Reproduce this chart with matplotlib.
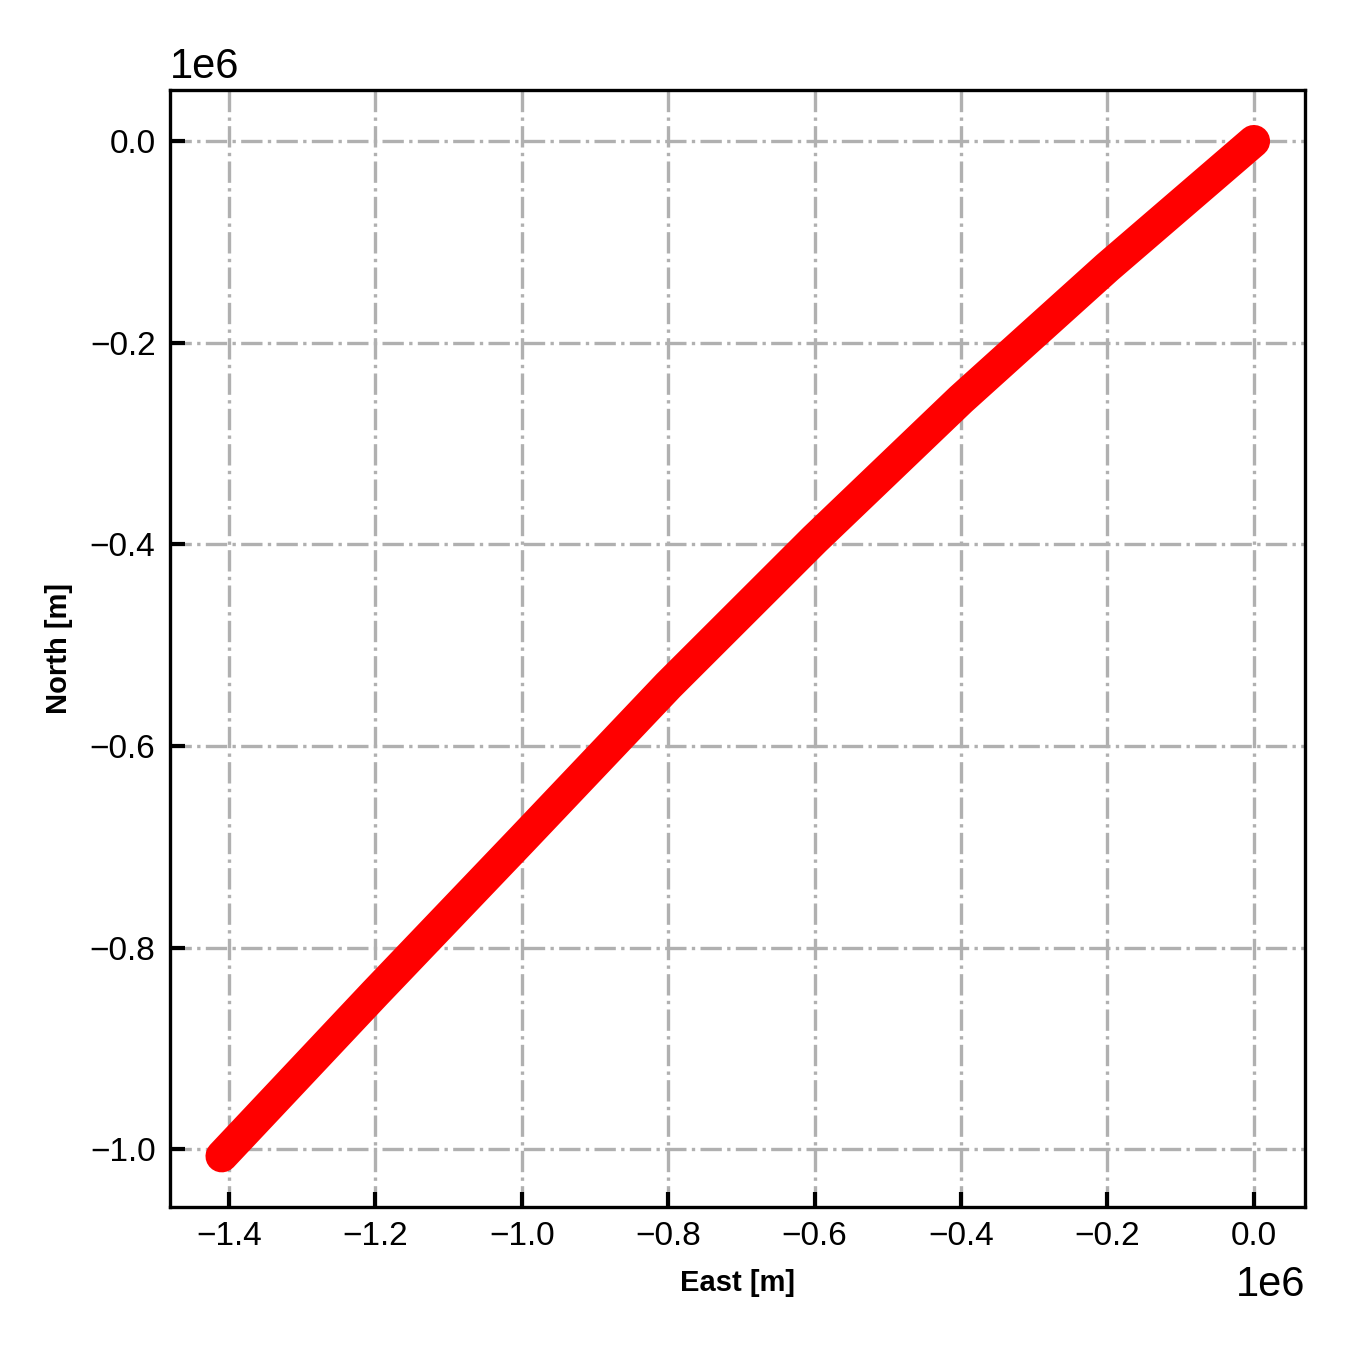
import matplotlib
matplotlib.use('Agg')
import matplotlib.pyplot as plt

plt.rcParams['font.family'] = ['Liberation Sans', 'DejaVu Sans']

# track positions at grid crossings (metres)
east = [0.0, -0.2e6, -0.4e6, -0.6e6, -0.8e6, -1.0e6, -1.2e6, -1.41e6]
north = [0.0, -0.125e6, -0.256e6, -0.395e6, -0.540e6, -0.693e6, -0.845e6, -1.007e6]

fig = plt.figure(figsize=(4.5, 4.5), dpi=300)
ax = fig.add_axes([0.126, 0.106, 0.841, 0.827])

ax.plot(east, north, '-', color='red', lw=7.8,
        solid_capstyle='round', solid_joinstyle='round', zorder=3)

ax.grid(True, color='#b0b0b0', linestyle='-.', linewidth=0.8)
ax.set_axisbelow(True)
ax.tick_params(direction='in', labelsize=8, length=3.5, width=1)
for s in ax.spines.values():
    s.set_linewidth(0.8)
ax.xaxis.get_offset_text().set_fontsize(10)
ax.yaxis.get_offset_text().set_fontsize(10)

ax.set_xlabel('East [m]', fontsize=7, fontweight='bold')
ax.set_ylabel('North [m]', fontsize=7, fontweight='bold')

fig.savefig('out.png', dpi=300)
